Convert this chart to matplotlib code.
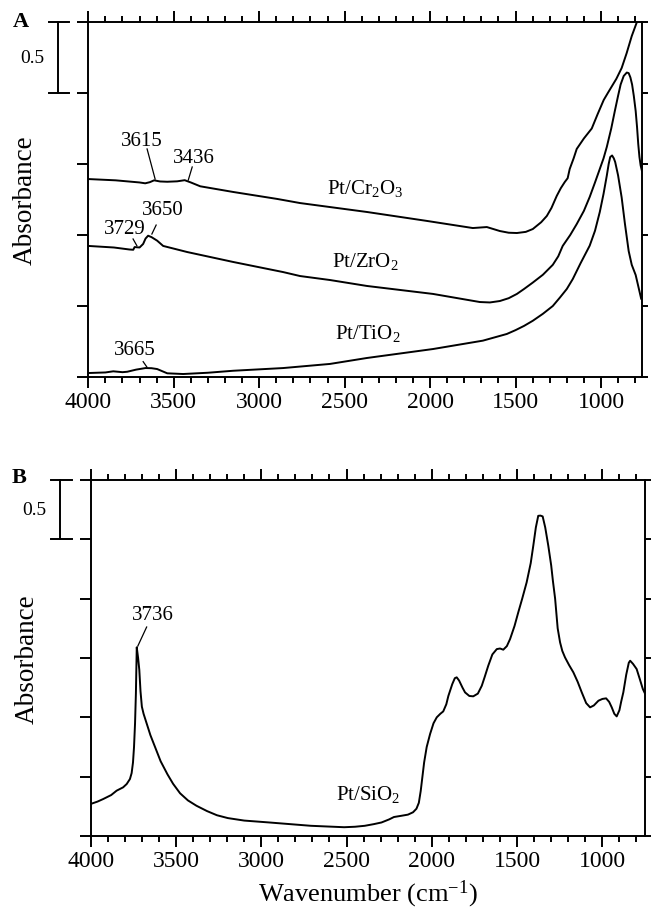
import numpy as np
import matplotlib.pyplot as plt
from matplotlib.ticker import MultipleLocator
import matplotlib.transforms as mtransforms

plt.rcParams['font.family'] = ['Liberation Serif', 'DejaVu Serif']
plt.rcParams['mathtext.fontset'] = 'custom'
plt.rcParams['mathtext.rm'] = 'Liberation Serif'
plt.rcParams['mathtext.it'] = 'Liberation Serif:italic'
plt.rcParams['mathtext.bf'] = 'Liberation Serif:bold'

# ---- panel A data (wavenumber, absorbance) ----
cr_wn = [4000, 3840, 3700, 3667, 3640, 3615, 3580, 3538, 3480, 3436, 3400, 3345, 3152,
         2895, 2761, 2369, 2018, 1750, 1668, 1592, 1540, 1492, 1440, 1399, 1350, 1317,
         1290, 1259, 1235, 1212, 1195, 1183, 1160, 1142, 1100, 1054, 1020, 984, 960, 937,
         910, 879, 850, 820, 791, 760]
cr_ab = [1.394, 1.385, 1.370, 1.364, 1.372, 1.385, 1.377, 1.375, 1.378, 1.386, 1.370, 1.343, 1.303,
         1.254, 1.225, 1.162, 1.099, 1.049, 1.056, 1.028, 1.016, 1.014, 1.022, 1.042, 1.090, 1.134,
         1.19, 1.275, 1.33, 1.373, 1.40, 1.465, 1.54, 1.606, 1.68, 1.750, 1.85, 1.951, 2.0, 2.046,
         2.10, 2.176, 2.28, 2.401, 2.496, 2.62]

zr_wn = [4000, 3850, 3760, 3737, 3729, 3700, 3679, 3665, 3650, 3630, 3597, 3562, 3421,
         3152, 2860, 2761, 2586, 2369, 1983, 1709, 1650, 1592, 1540, 1492, 1450, 1399,
         1340, 1282, 1250, 1224, 1180, 1142, 1100, 1066, 1035, 1007, 985, 966, 940, 919,
         900, 885, 867, 849, 838, 828, 818, 808, 797, 789, 782, 775, 768, 760]
zr_ab = [0.923, 0.912, 0.898, 0.896, 0.915, 0.912, 0.937, 0.975, 0.995, 0.985, 0.960, 0.923, 0.880,
         0.810, 0.739, 0.711, 0.683, 0.641, 0.585, 0.528, 0.525, 0.535, 0.555, 0.585, 0.62, 0.665,
         0.72, 0.79, 0.85, 0.923, 1.0, 1.077, 1.17, 1.268, 1.37, 1.465, 1.54, 1.620, 1.75, 1.873,
         1.98, 2.06, 2.12, 2.144, 2.14, 2.11, 2.06, 1.98, 1.873, 1.76, 1.641, 1.55, 1.49, 1.45]

ti_wn = [4000, 3900, 3854, 3800, 3772, 3720, 3665, 3630, 3597, 3538, 3445, 3300, 3152,
         2860, 2586, 2369, 1983, 1691, 1551, 1500, 1450, 1399, 1340, 1282, 1240, 1200,
         1165, 1120, 1066, 1035, 1007, 985, 966, 955, 946, 935, 925, 917, 900, 879,
         860, 838, 820, 797, 780, 765]
ti_ab = [0.028, 0.032, 0.040, 0.034, 0.037, 0.052, 0.063, 0.062, 0.056, 0.026, 0.021, 0.030, 0.044,
         0.063, 0.092, 0.134, 0.197, 0.256, 0.303, 0.33, 0.36, 0.396, 0.445, 0.50, 0.56, 0.62,
         0.69, 0.80, 0.925, 1.03, 1.162, 1.29, 1.418, 1.50, 1.549, 1.56, 1.54, 1.514, 1.42, 1.264,
         1.08, 0.887, 0.79, 0.718, 0.63, 0.552]

# ---- panel B data ----
si_wn = [4000, 3960, 3926, 3880, 3848, 3810, 3789, 3770, 3760, 3752, 3746, 3740, 3735,
         3730, 3722, 3715, 3708, 3700, 3690, 3670, 3650, 3620, 3590, 3550, 3517, 3476,
         3430, 3380, 3318, 3260, 3196, 3100, 2953, 2709, 2514, 2450, 2393, 2340, 2295,
         2250, 2222, 2180, 2140, 2110, 2090, 2076, 2065, 2055, 2045, 2030, 2010, 1990,
         1971, 1950, 1933, 1915, 1903, 1880, 1865, 1854, 1840, 1820, 1805, 1780, 1757,
         1730, 1707, 1690, 1669, 1645, 1619, 1600, 1581, 1560, 1541, 1515, 1493, 1470,
         1444, 1420, 1405, 1390, 1376, 1363, 1350, 1335, 1317, 1300, 1290, 1277, 1262,
         1248, 1235, 1219, 1195, 1170, 1145, 1121, 1095, 1072, 1050, 1023, 1000, 978,
         960, 945, 930, 916, 900, 890, 877, 860, 845, 837, 820, 799, 780, 763, 750]
si_ab = [0.27, 0.29, 0.312, 0.345, 0.382, 0.41, 0.438, 0.48, 0.53, 0.62, 0.75, 0.95, 1.2,
         1.59, 1.50, 1.40, 1.22, 1.09, 1.03, 0.94, 0.85, 0.74, 0.63, 0.52, 0.44, 0.36,
         0.30, 0.255, 0.21, 0.175, 0.151, 0.13, 0.114, 0.086, 0.074, 0.078, 0.086, 0.10, 0.114,
         0.14, 0.16, 0.17, 0.18, 0.20, 0.23, 0.28, 0.38, 0.50, 0.62, 0.75, 0.86, 0.95,
         1.0, 1.03, 1.05, 1.11, 1.18, 1.28, 1.33, 1.337, 1.31, 1.25, 1.21, 1.18, 1.177,
         1.20, 1.266, 1.34, 1.435, 1.53, 1.575, 1.58, 1.57, 1.60, 1.66, 1.77, 1.885, 2.0,
         2.137, 2.30, 2.446, 2.60, 2.698, 2.70, 2.693, 2.60, 2.446, 2.28, 2.15, 2.0, 1.75,
         1.632, 1.56, 1.505, 1.44, 1.379, 1.30, 1.211, 1.12, 1.084, 1.10, 1.14, 1.155, 1.16,
         1.13, 1.084, 1.03, 1.008, 1.06, 1.13, 1.211, 1.36, 1.46, 1.477, 1.45, 1.407, 1.32, 1.24, 1.20]

# annotations: (text, text_wn, text_ab, line start wn, ab, line end wn, ab)
ann_a = [('3615', 3684, 1.669, 3656, 1.606, 3609, 1.394),
         ('3436', 3380, 1.549, 3392, 1.479, 3415, 1.387),
         ('3650', 3565, 1.183, 3603, 1.070, 3628, 1.007),
         ('3729', 3785, 1.049, 3738, 0.972, 3716, 0.925),
         ('3665', 3726, 0.192, 3679, 0.108, 3657, 0.070)]
ann_b = [('3736', 3635, 1.870, 3672, 1.761, 3724, 1.60)]

labels_a = [('Pt/Cr$_2$O$_3$', 2382, 1.331),
            ('Pt/ZrO$_2$', 2377, 0.817),
            ('Pt/TiO$_2$', 2365, 0.310)]
labels_b = [('Pt/SiO$_2$', 2373, 0.354)]

fig = plt.figure(figsize=(6.51, 9.12), dpi=100)
axA = fig.add_axes([88.3/651, 1-378/912, (642-88.3)/651, 355/912])
axB = fig.add_axes([90.7/651, 1-837/912, (645-90.7)/651, 356/912])


def style(ax, xmin, ymax):
    ax.set_xlim(4000, xmin)
    ax.set_ylim(0, ymax)
    for s in ax.spines.values():
        s.set_linewidth(1.4)
    ax.xaxis.set_major_locator(MultipleLocator(500))
    ax.xaxis.set_minor_locator(MultipleLocator(100))
    ax.set_yticks(np.arange(0, ymax + 0.01, 0.5))
    ax.yaxis.set_minor_locator(MultipleLocator(0.5))
    ax.yaxis.remove_overlapping_locs = False
    ax.tick_params(axis='x', which='major', direction='out', length=8, width=1.4,
                   top=True, bottom=True, labelsize=17, pad=2)
    ax.tick_params(axis='x', which='minor', direction='out', length=4, width=1.4,
                   top=True, bottom=True)
    ax.tick_params(axis='y', which='major', direction='out', length=8, width=1.4,
                   left=True, right=False, labelleft=False)
    ax.tick_params(axis='y', which='minor', direction='out', length=4.5, width=1.4,
                   left=False, right=True)
    ax.set_ylabel('Absorbance', fontsize=19.5)
    ax.yaxis.set_label_coords(-0.092, 0.5)
    # 0.5 scale bar
    tr = mtransforms.blended_transform_factory(ax.transAxes, ax.transData)
    ax.plot([-0.055, -0.055], [ymax - 0.5, ymax], transform=tr, clip_on=False, color='k', lw=1.4)
    ax.plot([-0.071, -0.034], [ymax, ymax], transform=tr, clip_on=False, color='k', lw=1.4)
    ax.plot([-0.071, -0.034], [ymax - 0.5, ymax - 0.5], transform=tr, clip_on=False, color='k', lw=1.4)
    ax.text(-0.102, ymax - 0.25, '0.5', transform=tr, ha='center', va='center', fontsize=14)


style(axA, 760, 2.5)
style(axB, 750, 3.0)

axA.plot(cr_wn, cr_ab, color='k', lw=1.4)
axA.plot(zr_wn, zr_ab, color='k', lw=1.4)
axA.plot(ti_wn, ti_ab, color='k', lw=1.4)
axB.plot(si_wn, si_ab, color='k', lw=1.4)

for ax, anns, labs in [(axA, ann_a, labels_a), (axB, ann_b, labels_b)]:
    for t, tx, ty, x0, y0, x1, y1 in anns:
        ax.text(tx, ty, t, ha='center', va='center', fontsize=15)
        ax.plot([x0, x1], [y0, y1], color='k', lw=0.9)
    for t, tx, ty in labs:
        ax.text(tx, ty, t, ha='center', va='center', fontsize=15)

axB.set_xlabel('Wavenumber (cm$^{\\mathrm{-1}}$)', fontsize=19)
axB.xaxis.set_label_coords(0.5, -0.118)
axB.xaxis.label.set_va('top')

fig.text(21/651, 1-22/912, 'A', ha='center', va='center', fontsize=16, fontweight='bold')
fig.text(19/651, 1-478/912, 'B', ha='center', va='center', fontsize=16, fontweight='bold')

fig.savefig('out.png', dpi=100)
